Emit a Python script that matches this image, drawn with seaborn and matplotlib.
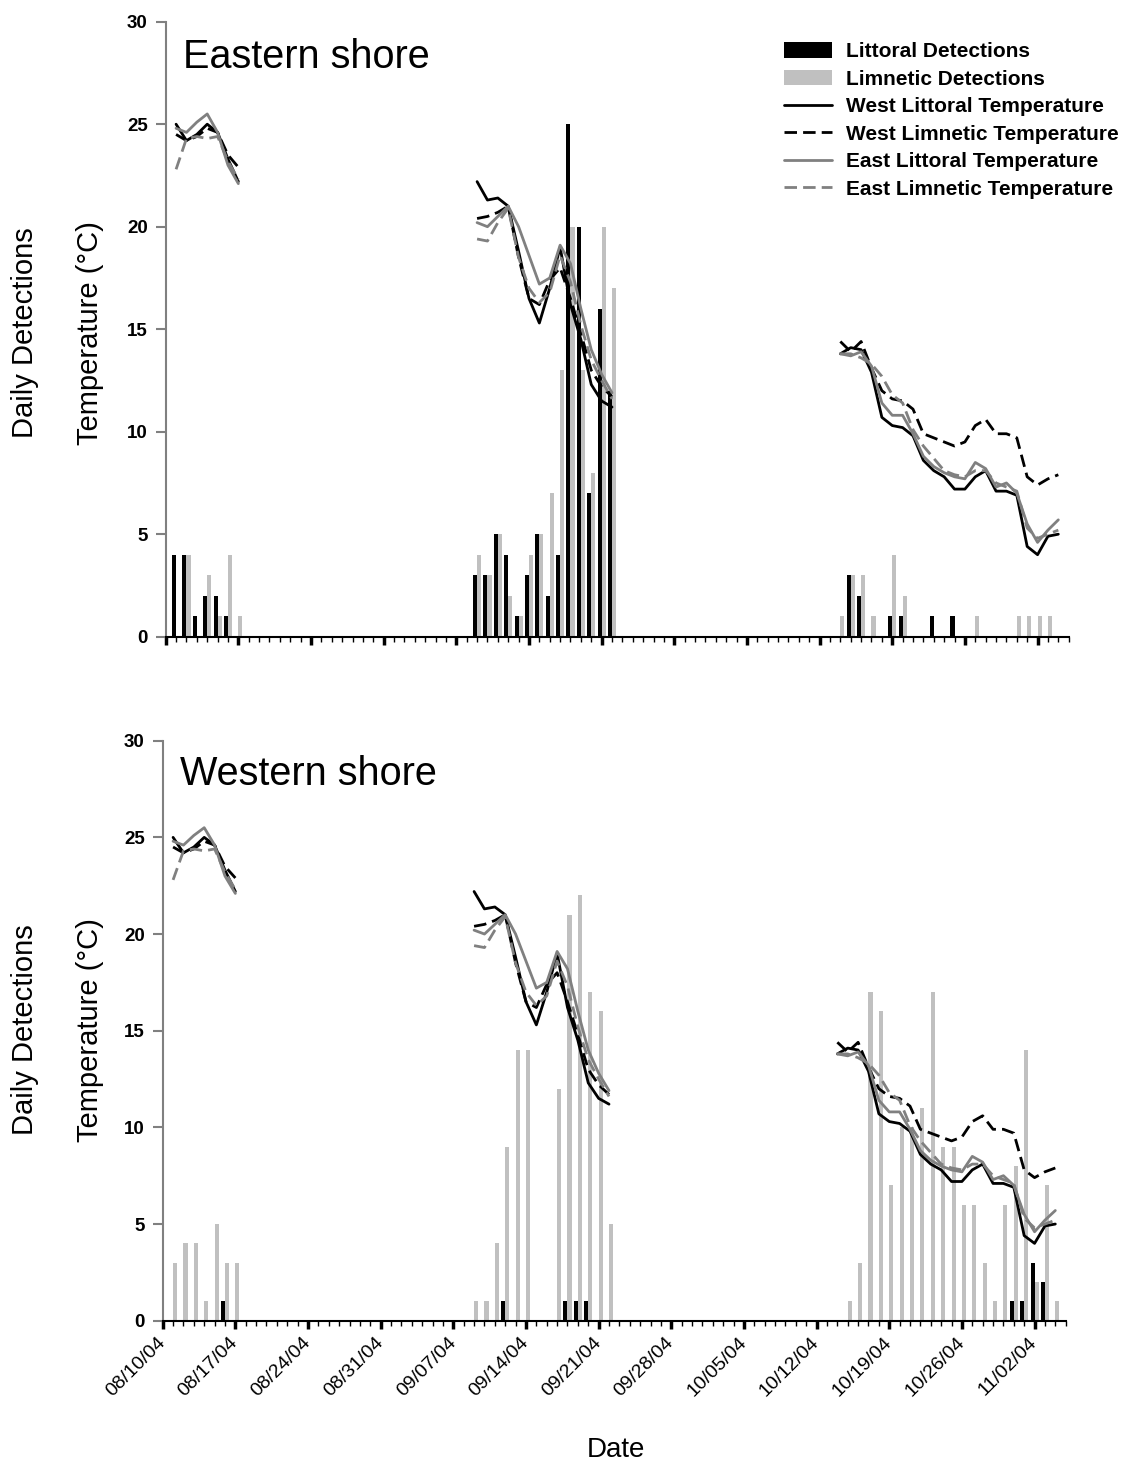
import datetime as dt
import numpy as np
import pandas as pd
import matplotlib
matplotlib.use("Agg")
import matplotlib.pyplot as plt
import seaborn as sns
from matplotlib.patches import Patch
from matplotlib.lines import Line2D
from matplotlib.ticker import FixedLocator

# ---------------- data ----------------
start_date = dt.date(2004, 8, 10)
n_days = 87  # 08/10/04 .. 11/04/04
major_days = list(range(0, 85, 7))
tick_labels = [(start_date + dt.timedelta(days=d)).strftime("%m/%d/%y") for d in major_days]

# Eastern shore detections (day index from 08/10/04, count)
east_littoral_days = [1, 2, 3, 4, 5, 6, 30, 31, 32, 33, 34, 35, 36, 37, 38, 39, 40, 41, 42, 43,
                      66, 67, 70, 71, 74, 76]
east_littoral_counts = [4, 4, 1, 2, 2, 1, 3, 3, 5, 4, 1, 3, 5, 2, 4, 25, 20, 7, 16, 12,
                        3, 2, 1, 1, 1, 1]
east_limnetic_days = [2, 4, 5, 6, 7, 30, 31, 32, 33, 34, 35, 36, 37, 38, 39, 40, 41, 42, 43,
                      65, 66, 67, 68, 70, 71, 78, 82, 83, 84, 85]
east_limnetic_counts = [4, 3, 1, 4, 1, 4, 3, 5, 2, 1, 4, 5, 7, 13, 20, 13, 8, 20, 17,
                        1, 3, 3, 1, 4, 2, 1, 1, 1, 1, 1]

# Western shore detections
west_littoral_days = [6, 33, 39, 40, 41, 82, 83, 84, 85]
west_littoral_counts = [1, 1, 1, 1, 1, 1, 1, 3, 2]
west_limnetic_days = [1, 2, 3, 4, 5, 6, 7, 30, 31, 32, 33, 34, 35, 38, 39, 40, 41, 42, 43,
                      66, 67, 68, 69, 70, 71, 72, 73, 74, 75, 76, 77, 78, 79, 80, 81, 82, 83,
                      84, 85, 86]
west_limnetic_counts = [3, 4, 4, 1, 5, 3, 3, 1, 1, 4, 9, 14, 14, 12, 21, 22, 17, 16, 5,
                        1, 3, 17, 16, 7, 10, 10, 11, 17, 9, 9, 6, 6, 3, 1, 6, 8, 14,
                        2, 7, 1]

# Temperature records (three logging periods)
temp_days = [list(range(1, 8)), list(range(30, 44)), list(range(65, 87))]
west_littoral_temp = [
    [25.0, 24.2, 24.5, 25.0, 24.6, 23.3, 22.2],
    [22.2, 21.3, 21.4, 21.0, 18.8, 16.5, 15.3, 17.0, 19.0, 16.2, 14.5, 12.3, 11.5, 11.2],
    [13.8, 14.1, 14.0, 12.9, 10.7, 10.3, 10.2, 9.8, 8.6, 8.1, 7.8, 7.2, 7.2, 7.8, 8.1,
     7.1, 7.1, 6.9, 4.4, 4.0, 4.9, 5.0],
]
west_limnetic_temp = [
    [24.5, 24.2, 24.4, 24.8, 24.6, 23.5, 22.9],
    [20.4, 20.5, 20.7, 21.0, 18.5, 16.5, 16.2, 17.4, 18.0, 16.5, 14.8, 13.0, 12.2, 11.7],
    [14.4, 13.9, 14.4, 13.1, 12.0, 11.6, 11.5, 11.1, 9.9, 9.7, 9.5, 9.3, 9.5, 10.3, 10.6,
     9.9, 9.9, 9.7, 7.8, 7.4, 7.7, 7.9],
]
east_littoral_temp = [
    [24.8, 24.6, 25.1, 25.5, 24.6, 23.0, 22.1],
    [20.2, 20.0, 20.5, 21.0, 20.0, 18.6, 17.2, 17.5, 19.1, 18.2, 16.0, 14.0, 12.8, 11.9],
    [13.8, 13.7, 13.9, 13.2, 11.4, 10.8, 10.8, 9.9, 8.8, 8.3, 8.0, 7.8, 7.7, 8.5, 8.2,
     7.3, 7.5, 7.0, 5.5, 4.6, 5.2, 5.7],
]
east_limnetic_temp = [
    [22.8, 24.3, 24.4, 24.3, 24.4, 23.2, 22.3],
    [19.4, 19.3, 20.2, 20.9, 18.5, 17.0, 16.3, 16.8, 18.6, 17.3, 15.2, 13.5, 12.5, 11.6],
    [13.8, 13.8, 13.6, 13.3, 12.7, 11.8, 11.4, 10.1, 9.3, 8.7, 8.1, 7.9, 7.8, 8.1, 8.1,
     7.5, 7.3, 7.1, 5.3, 4.8, 5.0, 5.2],
]

# ---------------- style ----------------
sns.set_theme(style="ticks")
plt.rcParams["font.family"] = ["Liberation Sans", "DejaVu Sans"]
plt.rcParams["text.color"] = "black"
plt.rcParams["axes.labelcolor"] = "black"
plt.rcParams["xtick.color"] = "black"
plt.rcParams["ytick.color"] = "black"

BLACK = "#000000"
LIGHT = "#c0c0c0"
GRAY = "#808080"
LW = 2.0
DASH = (0, (4.5, 2.2))

series = [
    ("West Littoral Temperature", west_littoral_temp, BLACK, "-"),
    ("West Limnetic Temperature", west_limnetic_temp, BLACK, DASH),
    ("East Littoral Temperature", east_littoral_temp, GRAY, "-"),
    ("East Limnetic Temperature", east_limnetic_temp, GRAY, DASH),
]

W, H = 1122, 1467
fig = plt.figure(figsize=(W / 100, H / 100), dpi=100)
ax_top = fig.add_axes([165.7 / W, 1 - 636.7 / H, 903 / W, 615 / H])
ax_bot = fig.add_axes([162.7 / W, 1 - 1320.7 / H, 903 / W, 580 / H])


def draw_panel(ax, lit_days, lit_counts, lim_days, lim_counts, title, show_labels):
    lit = np.zeros(n_days)
    lit[lit_days] = lit_counts
    lim = np.zeros(n_days)
    lim[lim_days] = lim_counts
    days = np.arange(n_days)
    df = pd.DataFrame({
        "day": np.concatenate([days, days]),
        "count": np.concatenate([lit, lim]),
        "type": ["Littoral"] * n_days + ["Limnetic"] * n_days,
    })
    sns.barplot(data=df, x="day", y="count", hue="type",
                hue_order=["Littoral", "Limnetic"], palette=[BLACK, LIGHT],
                native_scale=True, width=0.78, dodge=True, errorbar=None,
                saturation=1, linewidth=0, legend=False, ax=ax)
    for name, segs, color, ls in series:
        for sd, vals in zip(temp_days, segs):
            sns.lineplot(x=sd, y=vals, color=color, linestyle=ls, linewidth=LW,
                         estimator=None, legend=False, ax=ax)

    ax.set_xlim(0, 87)
    ax.set_ylim(0, 30)
    ax.set_xlabel("")
    ax.set_ylabel("")
    ax.xaxis.set_major_locator(FixedLocator(major_days))
    ax.xaxis.set_minor_locator(FixedLocator(list(range(0, 88))))
    if show_labels:
        ax.set_xticklabels(tick_labels, rotation=45, ha="right", va="center",
                           rotation_mode="anchor", fontsize=14)
    else:
        ax.set_xticklabels([])
    ax.set_yticks(range(0, 31, 5))
    ax.set_yticklabels([str(v) for v in range(0, 31, 5)], fontweight="bold", fontsize=13.5)

    sns.despine(ax=ax)
    ax.spines["left"].set_color(GRAY)
    ax.spines["left"].set_linewidth(1.5)
    ax.spines["bottom"].set_color(BLACK)
    ax.spines["bottom"].set_linewidth(1.5)
    ax.tick_params(axis="y", which="major", direction="out", length=7, width=1.5,
                   color=GRAY, labelcolor="black", pad=6)
    ax.tick_params(axis="x", which="major", direction="out", length=6, width=2.5,
                   color=BLACK, labelcolor="black", pad=8)
    ax.tick_params(axis="x", which="minor", direction="out", length=3.5, width=1,
                   color=BLACK)
    ax.grid(False)
    ax.text(0.019, 0.943, title, transform=ax.transAxes, fontsize=28.5,
            ha="left", va="center", color="black")


draw_panel(ax_top, east_littoral_days, east_littoral_counts,
           east_limnetic_days, east_limnetic_counts, "Eastern shore", False)
draw_panel(ax_bot, west_littoral_days, west_littoral_counts,
           west_limnetic_days, west_limnetic_counts, "Western shore", True)

for yc in (333, 1030):
    fig.text(25 / W, 1 - yc / H, "Daily Detections", rotation=90, fontsize=21,
             ha="center", va="center")
    fig.text(90 / W, 1 - yc / H, "Temperature (\u00b0C)", rotation=90, fontsize=21,
             ha="center", va="center")
fig.text(616 / W, 1 - 1450 / H, "Date", fontsize=20, ha="center", va="center")

handles = [
    Patch(facecolor=BLACK, edgecolor="none"),
    Patch(facecolor=LIGHT, edgecolor="none"),
] + [Line2D([0], [0], color=c, linestyle=ls, linewidth=LW) for _, _, c, ls in series]
labels = ["Littoral Detections", "Limnetic Detections"] + [s[0] for s in series]
fig.legend(handles, labels, loc="upper left", bbox_to_anchor=(784 / W, 1 - 42 / H),
           frameon=False, prop={"weight": "bold", "size": 15}, handlelength=2.3,
           handleheight=0.8, handletextpad=0.7, labelspacing=0.4, borderpad=0,
           borderaxespad=0)

fig.savefig("out.png", dpi=100)
